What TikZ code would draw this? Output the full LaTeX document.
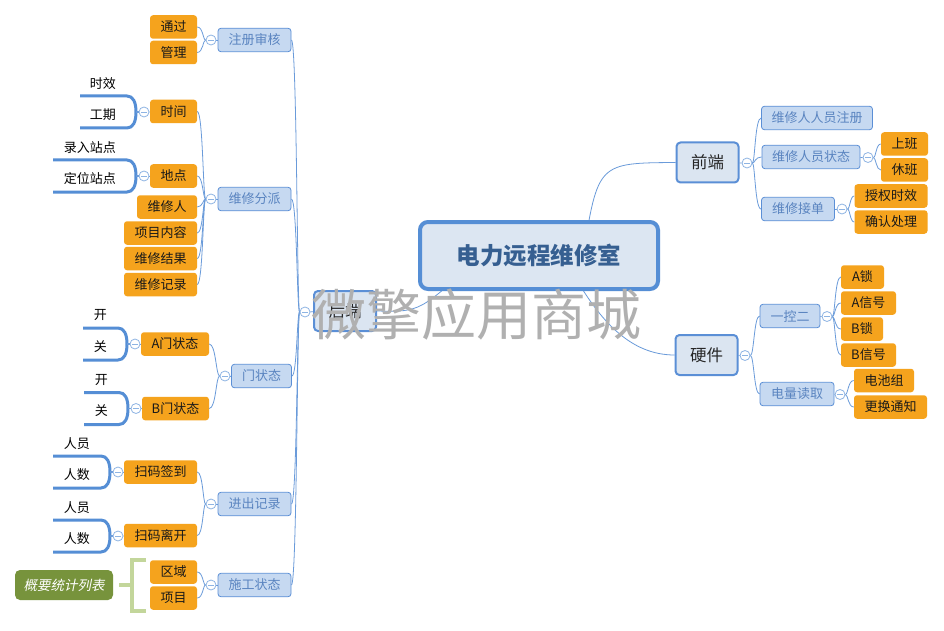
\documentclass[tikz,border=0pt]{standalone}
\usepackage{fontspec}
\setmainfont{Noto Sans CJK SC}
\newfontfamily\slfont[FakeSlant=0.2]{Noto Sans CJK SC}
\usetikzlibrary{backgrounds}
\definecolor{orc}{HTML}{F5A31D}
\definecolor{lbfill}{HTML}{C6D9F1}
\definecolor{lbdraw}{HTML}{5B8FD6}
\definecolor{lbtext}{HTML}{5A84C0}
\definecolor{lonefill}{HTML}{DBE5F1}
\definecolor{rootfill}{HTML}{DCE6F2}
\definecolor{rootdraw}{HTML}{558ED5}
\definecolor{roottext}{HTML}{365F91}
\definecolor{lkc}{HTML}{6A9BDA}
\definecolor{ulc}{HTML}{558ED5}
\definecolor{ccc}{HTML}{8EB4E3}
\definecolor{gfill}{HTML}{77933C}
\definecolor{gbr}{HTML}{C3D69B}
\definecolor{wmc}{HTML}{B0B0B0}
\newcommand\mmlink[3]{\draw[lk] (#1) .. controls (#1 -| #3,0) and (#2 -| #3,0) .. (#2);}
\newcommand\ulgrp[7]{%
 \node[ul] (#1a) at (#3-28,#4-28.5) {#6};
 \node[ul] (#1b) at (#3-28,#4+2.5) {#7};
 \begin{scope}[on background layer]
 \draw[ulk] (#5,#4-16) -- (#3-17,#4-16) .. controls (#3-11,#4-16) and (#3-8,#4-10) .. (#3-8,#4) .. controls (#3-8,#4+10) and (#3-11,#4+16) .. (#3-17,#4+16) -- (#5,#4+16);
 \draw[lk, line width=1.2pt] (#3-8,#4) -- (#2.center);
 \end{scope}}
\begin{document}
\begin{tikzpicture}[x=1pt,y=-1pt,
 base/.style={rounded corners=3pt, inner sep=0pt, minimum height=23.5pt, align=center, font=\fontsize{13}{15}\selectfont},
 mw/.style={minimum width=#1},
 org/.style={base, fill=orc, text=black!90},
 ltwo/.style={base, fill=lbfill, draw=lbdraw, line width=0.8pt, text=lbtext},
 lone/.style={rounded corners=4pt, fill=lonefill, draw=lbdraw, line width=2pt, minimum height=40pt, minimum width=62pt, inner sep=0pt, font=\fontsize{16.5}{18}\selectfont, text=black!85},
 root/.style={rounded corners=8pt, fill=rootfill, draw=rootdraw, line width=4pt, minimum width=238pt, minimum height=67pt, inner sep=0pt, font=\fontsize{23.5}{26}\selectfont\bfseries, text=roottext},
 ul/.style={font=\fontsize{13}{15}\selectfont, anchor=east, inner sep=0pt, text=black},
 lk/.style={draw=lkc, line width=0.8pt},
 ulk/.style={draw=ulc, line width=3pt},
 cc/.style={circle, draw=ccc, fill=white, minimum size=10pt, inner sep=0pt, line width=0.8pt,
   path picture={\draw[ccc, line width=0.8pt] ([xshift=-2.6pt]path picture bounding box.center) -- ([xshift=2.6pt]path picture bounding box.center);}}
]
\useasboundingbox (0,0) rectangle (944,631);
\begin{scope}[on background layer]
\fill[white] (0,0) rectangle (944,631);
\end{scope}

% root and level 1
\node[root] (root) at (539,255.5) {电力远程维修室};
\node[lone] (hd) at (345,311) {后端};
\node[lone] (qd) at (707.5,162.5) {前端};
\node[lone] (yj) at (706.5,355) {硬件};
\node[cc] (hdc) at (305,312) {};
\node[cc] (qdc) at (747,163) {};
\node[cc] (yjc) at (745,355.5) {};
\coordinate (rr) at (583,256);
\coordinate (rb) at (575,277);
\coordinate (rl) at (480,256);

% left level 2
\node[ltwo, mw=73] (zc) at (254.5,40) {注册审核};
\node[ltwo, mw=73] (wf) at (254.5,199) {维修分派};
\node[ltwo, mw=60] (mz) at (261.5,376) {门状态};
\node[ltwo, mw=73] (jc) at (254.5,504) {进出记录};
\node[ltwo, mw=73] (sg) at (254.5,585) {施工状态};
\node[cc] (zcc) at (211,40) {};
\node[cc] (wfc) at (211,199) {};
\node[cc] (mzc) at (225,376) {};
\node[cc] (jcc) at (211,504) {};
\node[cc] (sgc) at (211,585) {};

% left level 3
\node[org, mw=47] (tg) at (173.5,27) {通过};
\node[org, mw=47] (gl) at (173.5,52.5) {管理};
\node[org, mw=47] (sj) at (173.5,111.5) {时间};
\node[org, mw=47] (dd) at (173.5,176) {地点};
\node[org, mw=60] (wxr) at (167,207) {维修人};
\node[org, mw=73] (xmnr) at (160.5,233) {项目内容};
\node[org, mw=73] (wxjg) at (160.5,258.5) {维修结果};
\node[org, mw=73] (wxjl) at (160.5,284.5) {维修记录};
\node[org, mw=68] (amz) at (175,344) {A门状态};
\node[org, mw=67] (bmz) at (175.5,408.5) {B门状态};
\node[org, mw=73] (smqd) at (160.5,472) {扫码签到};
\node[org, mw=73] (smlk) at (160.5,535.5) {扫码离开};
\node[org, mw=47] (qy) at (173.5,572) {区域};
\node[org, mw=47] (xm) at (173.5,598) {项目};
\node[cc] (sjc) at (144,112) {};
\node[cc] (ddc) at (144,176) {};
\node[cc] (amzc) at (135,344) {};
\node[cc] (bmzc) at (136,408.5) {};
\node[cc] (smqdc) at (118,472) {};
\node[cc] (smlkc) at (118,536) {};

% underlined leaves
\ulgrp{sjl}{sjc}{144}{112}{80}{时效}{工期}
\ulgrp{ddl}{ddc}{144}{176}{53}{录入站点}{定位站点}
\ulgrp{amzl}{amzc}{135}{344}{83}{开}{关}
\ulgrp{bmzl}{bmzc}{136}{408.5}{84}{开}{关}
\ulgrp{smqdl}{smqdc}{118}{472}{53}{人员}{人数}
\ulgrp{smlkl}{smlkc}{118}{536}{53}{人员}{人数}

% summary
\node[rounded corners=5pt, fill=gfill, minimum width=98pt, minimum height=30pt, inner sep=0pt, text=white, font=\fontsize{13.5}{15}\selectfont\slfont] (gy) at (64,585) {概要统计列表};
\coordinate (brt) at (146,560);
\coordinate (brb) at (146,611);
\coordinate (brm) at (132,585);
\draw[gbr, line width=4pt] (brt) -- (132,560) -- (132,611) -- (brb);
\draw[gbr, line width=4pt] (brm) -- ([xshift=6pt]gy.east);

% right level 2
\node[ltwo, mw=111] (wxrzc) at (817,118) {维修人人员注册};
\node[ltwo, mw=98] (wxzt) at (811,157) {维修人员状态};
\node[ltwo, mw=73] (wxjd) at (798,209) {维修接单};
\node[ltwo, mw=60] (ykr) at (790,316) {一控二};
\node[ltwo, mw=74] (dlqd) at (797,394) {电量读取};
\node[cc] (wxztc) at (868,157.5) {};
\node[cc] (wxjdc) at (842,209) {};
\node[cc] (ykrc) at (827,316.5) {};
\node[cc] (dlqdc) at (840,394.5) {};

% right level 3
\node[org, mw=47] (sb) at (904.5,144) {上班};
\node[org, mw=47] (xb) at (904.5,170) {休班};
\node[org, mw=73] (sq) at (891,196) {授权时效};
\node[org, mw=73] (qr) at (891,222) {确认处理};
\node[org, mw=43] (as) at (862.5,277) {A锁};
\node[org, mw=55] (axh) at (868.5,303) {A信号};
\node[org, mw=42] (bs) at (862,329) {B锁};
\node[org, mw=55] (bxh) at (868.5,355) {B信号};
\node[org, mw=60] (dcz) at (884,380.5) {电池组};
\node[org, mw=73] (ghtz) at (890.5,407) {更换通知};

% connectors
\begin{scope}[on background layer]
\draw[lk] (rr) .. controls (598,163) .. (qd.west);
\draw[lk] (rb) .. controls (600,320) and (630,355) .. (yj.west);
\draw[lk] (rl) .. controls (420,312) .. (hd.east);
\foreach \a/\b in {hd/hdc,qd/qdc,yj/yjc,zc/zcc,wf/wfc,mz/mzc,jc/jcc,sg/sgc,sj/sjc,dd/ddc,amz/amzc,bmz/bmzc,smqd/smqdc,smlk/smlkc,wxzt/wxztc,wxjd/wxjdc,ykr/ykrc,dlqd/dlqdc}
  \draw[lk] (\a) -- (\b);
\foreach \t in {zc,wf,mz,jc,sg} {\mmlink{hdc.west}{\t.east}{297}}
\foreach \t in {tg,gl} {\mmlink{zcc.west}{\t.east}{203}}
\foreach \t in {sj,dd,wxr,xmnr,wxjg,wxjl} {\mmlink{wfc.west}{\t.east}{203}}
\foreach \t in {amz,bmz} {\mmlink{mzc.west}{\t.east}{216}}
\foreach \t in {smqd,smlk} {\mmlink{jcc.west}{\t.east}{203}}
\foreach \t in {qy,xm} {\mmlink{sgc.west}{\t.east}{203}}
\foreach \t in {wxrzc,wxzt,wxjd} {\mmlink{qdc.east}{\t.west}{755}}
\foreach \t in {sb,xb} {\mmlink{wxztc.east}{\t.west}{876}}
\foreach \t in {sq,qr} {\mmlink{wxjdc.east}{\t.west}{850}}
\foreach \t in {ykr,dlqd} {\mmlink{yjc.east}{\t.west}{754}}
\foreach \t in {as,axh,bs,bxh} {\mmlink{ykrc.east}{\t.west}{835}}
\foreach \t in {dcz,ghtz} {\mmlink{dlqdc.east}{\t.west}{848}}
\end{scope}

% watermark
\node[text=wmc, inner sep=0pt, font=\fontsize{55}{60}\selectfont] (wm) at (476,315) {微擎应用商城};
\end{tikzpicture}
\end{document}
